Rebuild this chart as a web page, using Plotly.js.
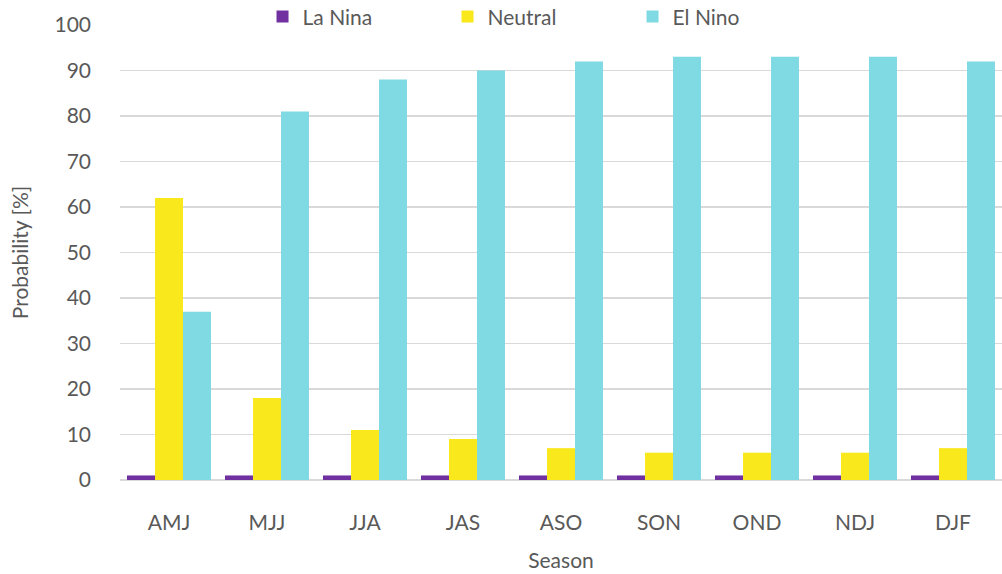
<!DOCTYPE html>
<html><head><meta charset="utf-8">
<script src="https://cdn.plot.ly/plotly-3.0.1.min.js"></script>
<style>html,body{margin:0;padding:0;background:#fff}</style>
</head><body>
<div id="chart" style="width:1002px;height:574px"></div>
<script>
const seasons = ["AMJ","MJJ","JJA","JAS","ASO","SON","OND","NDJ","DJF"];
const laNina  = [1,1,1,1,1,1,1,1,1];
const neutral = [62,18,11,9,7,6,6,6,7];
const elNino  = [37,81,88,90,92,93,93,93,92];
const yTicks  = [0,10,20,30,40,50,60,70,80,90,100];

const font = "Lato, 'Open Sans', sans-serif";
const grey = "#595959";
const traces = [
  {type:"bar", name:"La Nina", x:seasons, y:laNina, marker:{color:"#7030A0"}},
  {type:"bar", name:"Neutral", x:seasons, y:neutral, marker:{color:"#F9E81C"}},
  {type:"bar", name:"El Nino", x:seasons, y:elNino, marker:{color:"#80DAE3"}}
];
const layout = {
  width:1002, height:574,
  margin:{l:120, r:0, t:25, b:94, autoexpand:false},
  paper_bgcolor:"#fff", plot_bgcolor:"#fff",
  font:{family:font, color:grey, size:21},
  barmode:"group", bargap:0.143, bargroupgap:0,
  showlegend:true,
  legend:{orientation:"h", xref:"paper", yref:"paper", x:0.1616, xanchor:"left", y:1.018, yanchor:"middle",
          entrywidth:140, entrywidthmode:"pixels", font:{size:21, color:grey}, bgcolor:"rgba(0,0,0,0)"},
  xaxis:{title:{text:"Season", font:{size:21, color:grey}, standoff:20},
         tickfont:{size:21, color:grey}, showline:false, ticks:"", ticklabelstandoff:28,
         showgrid:false, zeroline:false},
  yaxis:{title:{text:"Probability [%]", font:{size:21, color:grey}, standoff:20},
         range:[0,100], tickvals:yTicks, ticktext:yTicks.map(String),
         tickfont:{size:21, color:grey}, ticks:"", ticklabelstandoff:28,
         showgrid:true, gridcolor:"#D9D9D9", gridwidth:1.5,
         zeroline:true, zerolinecolor:"#D9D9D9", zerolinewidth:2.5, showline:false}
};
Plotly.newPlot("chart", traces, layout, {displayModeBar:false, staticPlot:true});
</script>
</body></html>
